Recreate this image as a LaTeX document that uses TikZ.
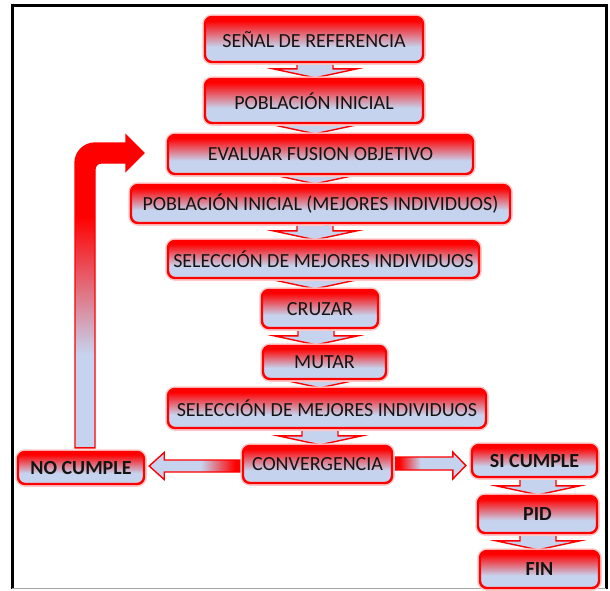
\documentclass[tikz,border=0pt]{standalone}
\usepackage{fontspec}
\setmainfont{Carlito}
\usetikzlibrary{calc}
\definecolor{lb}{RGB}{198,211,238}
\definecolor{txt}{RGB}{20,20,20}
\pgfdeclareverticalshading{boxshade}{100bp}{color(0bp)=(lb); color(42bp)=(lb); color(71bp)=(red); color(100bp)=(red)}
\pgfdeclareverticalshading{loopshade}{100bp}{color(0bp)=(lb); color(40bp)=(lb); color(62bp)=(red); color(100bp)=(red)}
\pgfdeclarehorizontalshading{leftshade}{100bp}{color(0bp)=(lb); color(52bp)=(lb); color(70bp)=(red); color(100bp)=(red)}
\pgfdeclarehorizontalshading{rightshade}{100bp}{color(0bp)=(red); color(31bp)=(red); color(45bp)=(lb); color(100bp)=(lb)}
\pgfdeclarelayer{bg}
\pgfdeclarelayer{paper}
\pgfsetlayers{paper,bg,main}
\tikzset{
  flowbox/.style={rounded corners=7pt, draw=red, line width=2.4pt, shading=boxshade, shade,
    preaction={draw=red!22, line width=5.5pt},
    text=txt, font=\fontsize{20}{22}\selectfont, inner sep=0pt, align=center},
  boldbox/.style={flowbox, font=\fontsize{20}{22}\selectfont\bfseries},
  fatarrow/.style={fill=lb, draw=red, line width=1.4pt, line join=miter},
}
% #1 upper node, #2 lower node, #3 centre x
\newcommand\fatdown[3]{%
  \draw[fatarrow] let \p1=(#1.south), \p2=(#2.north) in
    (#3pt-18pt,\y1+3pt) -- (#3pt-18pt,\y2+9pt) -- (#3pt-42pt,\y2+9pt) -- (#3pt,\y2) --
    (#3pt+42pt,\y2+9pt) -- (#3pt+18pt,\y2+9pt) -- (#3pt+18pt,\y1+3pt) -- cycle;}
\begin{document}
\begin{tikzpicture}[x=1pt,y=-1pt]
\useasboundingbox (0,0) rectangle (610,590);
\begin{pgfonlayer}{paper}
\fill[white] (0,0) rectangle (610,590);
\end{pgfonlayer}
% frame
\draw[black, line width=3pt] (12,589) -- (12,5) -- (606,5) -- (606,589);
\draw[gray!70, line width=1.5pt] (12,588.5) -- (606,588.5);

\node[flowbox, minimum width=218pt, minimum height=45pt] (n1) at (314,39.5) {SEÑAL DE REFERENCIA};
\node[flowbox, minimum width=218pt, minimum height=44pt] (n2) at (314,101) {POBLACIÓN INICIAL};
\node[flowbox, minimum width=305pt, minimum height=39pt] (n3) at (320.5,154.5) {EVALUAR FUSION OBJETIVO};
\node[flowbox, minimum width=379pt, minimum height=38pt] (n4) at (320.5,204) {POBLACIÓN INICIAL (MEJORES INDIVIDUOS)};
\node[flowbox, minimum width=311pt, minimum height=37pt] (n5) at (323.5,259.5) {SELECCIÓN DE MEJORES INDIVIDUOS};
\node[flowbox, minimum width=116pt, minimum height=38pt] (n6) at (320,309) {CRUZAR};
\node[flowbox, minimum width=123pt, minimum height=33pt] (n7) at (324.5,362.5) {MUTAR};
\node[flowbox, minimum width=318pt, minimum height=39pt] (n8) at (327,408.5) {SELECCIÓN DE MEJORES INDIVIDUOS};
\node[flowbox, minimum width=149pt, minimum height=37pt] (conv) at (317.5,464.5) {CONVERGENCIA};
\node[boldbox, minimum width=126pt, minimum height=32pt] (no) at (81,468) {NO CUMPLE};
\node[boldbox, minimum width=125pt, minimum height=32pt] (si) at (534.5,461) {SI CUMPLE};
\node[boldbox, minimum width=119pt, minimum height=37pt] (pid) at (537.5,514.5) {PID};
\node[boldbox, minimum width=119pt, minimum height=37pt] (fin) at (539.5,569.5) {FIN};

\begin{pgfonlayer}{bg}
\fatdown{n1}{n2}{315}
\fatdown{n2}{n3}{315}
\fatdown{n3}{n4}{315}
\fatdown{n4}{n5}{315}
\fatdown{n5}{n6}{315}
\fatdown{n6}{n7}{316}
\fatdown{n7}{n8}{320}
\fatdown{n8}{conv}{320}
\fatdown{si}{pid}{538}
\fatdown{pid}{fin}{538}
% convergencia -> no cumple
\shadedraw[shading=leftshade, draw=red, line width=1.4pt, line join=miter]
  let \p1=(conv.west), \p2=(no.east) in
  (\x1+3pt,-460pt) -- (\x2+19pt,-460pt) -- (\x2+19pt,-452.5pt) -- (\x2+4pt,-466pt) --
  (\x2+19pt,-479.5pt) -- (\x2+19pt,-472pt) -- (\x1+3pt,-472pt) -- cycle;
% convergencia -> si cumple
\shadedraw[shading=rightshade, draw=red, line width=1.4pt, line join=miter]
  let \p1=(conv.east), \p2=(si.west) in
  (\x1-3pt,-457pt) -- (\x2-18pt,-457pt) -- (\x2-18pt,-452pt) -- (\x2-5pt,-465.5pt) --
  (\x2-18pt,-479pt) -- (\x2-18pt,-470pt) -- (\x1-3pt,-470pt) -- cycle;
% no cumple -> evaluar (loop)
\shadedraw[shading=loopshade, draw=red, line width=1.4pt, line join=miter]
  let \p1=(no.north), \p2=(n3.west) in
  (75pt,\y1+3pt) -- (75,163) .. controls (75,152) and (84,143) .. (95,143) -- (126,143) --
  (126,135) -- (\x2-23pt,-153pt) -- (126,171) -- (126,163) -- (101,163)
  .. controls (97.7,163) and (95,165.7) .. (95,169) -- (95pt,\y1+3pt) -- cycle;
\end{pgfonlayer}
\end{tikzpicture}
\end{document}
